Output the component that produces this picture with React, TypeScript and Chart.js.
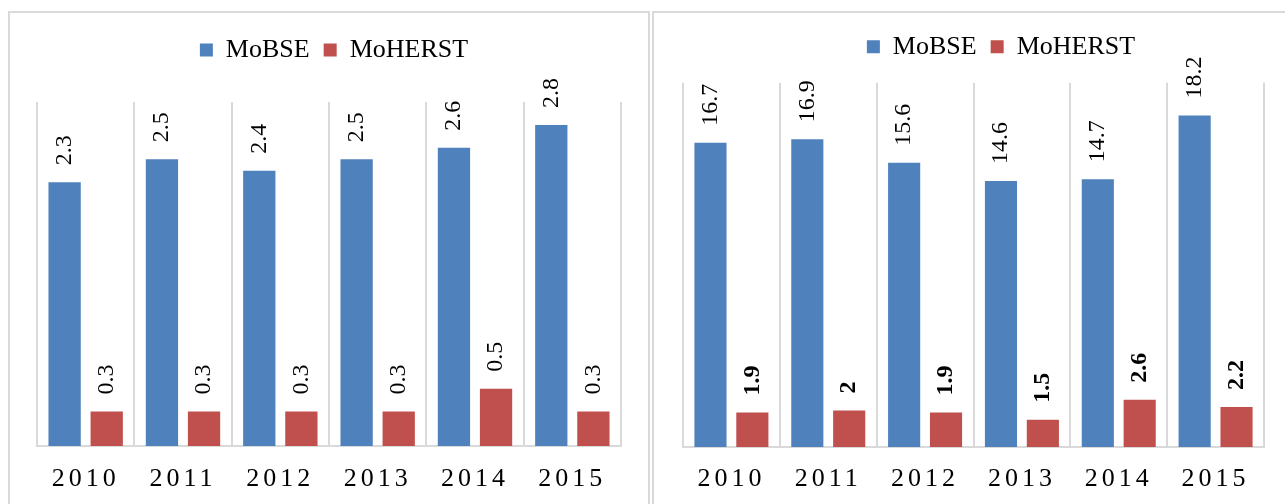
import React, { useEffect, useRef } from 'react';
import { Chart, registerables } from 'chart.js';

Chart.register(...registerables);

// ---- data ----
const years = ['2010', '2011', '2012', '2013', '2014', '2015'];
const seriesNames = ['MoBSE', 'MoHERST'];
const leftMoBSE = [2.3, 2.5, 2.4, 2.5, 2.6, 2.8];
const leftMoHERST = [0.3, 0.3, 0.3, 0.3, 0.5, 0.3];
const rightMoBSE = [16.7, 16.9, 15.6, 14.6, 14.7, 18.2];
const rightMoHERST = [1.9, 2, 1.9, 1.5, 2.6, 2.2];
const leftMax = 3;
const rightMax = 20;

const BLUE = '#4F81BD';
const RED = '#C0504D';
const GRID = '#d9d9d9';
const FONT = "'Liberation Serif', 'Times New Roman', serif";

type PanelCfg = {
  a: number[];
  b: number[];
  max: number;
  boldIdx: number[];
  pad: { top: number; left: number; right: number; bottom: number };
  yW: number;
  legendExtra: number;
  tickPad: number;
  width: number;
  height: number;
};

const leftCfg: PanelCfg = {
  a: leftMoBSE,
  b: leftMoHERST,
  max: leftMax,
  boldIdx: [],
  pad: { top: 10, left: 27, right: 17, bottom: 1 },
  yW: 10,
  legendExtra: 29,
  tickPad: 17.4,
  width: 638,
  height: 500,
};

const rightCfg: PanelCfg = {
  a: rightMoBSE,
  b: rightMoHERST,
  max: rightMax,
  boldIdx: [1],
  pad: { top: 6.7, left: 29, right: 0, bottom: 2 },
  yW: 55,
  legendExtra: 13,
  tickPad: 16.4,
  width: 665,
  height: 500,
};

function makeChart(canvas: HTMLCanvasElement, p: PanelCfg) {
  const plugin: any = {
    id: 'valueLabels',
    beforeLayout(chart: any) {
      const lg = chart.legend;
      if (lg && !lg.__patched) {
        const orig = lg.fit;
        lg.fit = function () {
          orig.call(this);
          this.height += p.legendExtra;
        };
        lg.__patched = true;
      }
    },
    beforeDraw(chart: any) {
      chart.ctx.letterSpacing = '0px';
    },
    afterDatasetsDraw(chart: any) {
      const ctx = chart.ctx;
      ctx.letterSpacing = '0px';
      chart.data.datasets.forEach((ds: any, di: number) => {
        const meta = chart.getDatasetMeta(di);
        meta.data.forEach((el: any, i: number) => {
          const v = ds.data[i];
          ctx.save();
          ctx.translate(el.x, el.y - 17);
          ctx.rotate(-Math.PI / 2);
          ctx.font = `${p.boldIdx.includes(di) ? 'bold ' : ''}24px ${FONT}`;
          ctx.fillStyle = '#000';
          ctx.textAlign = 'left';
          ctx.textBaseline = 'middle';
          ctx.fillText(String(v), 0, 0);
          ctx.restore();
        });
      });
      ctx.letterSpacing = '4px';
    },
    afterDraw(chart: any) {
      chart.ctx.letterSpacing = '0px';
    },
  };

  return new Chart(canvas, {
    type: 'bar',
    data: {
      labels: years,
      datasets: [
        { label: seriesNames[0], data: p.a, backgroundColor: BLUE, borderWidth: 0 },
        { label: seriesNames[1], data: p.b, backgroundColor: RED, borderWidth: 0 },
      ],
    },
    options: {
      responsive: false,
      animation: false,
      maintainAspectRatio: false,
      categoryPercentage: 0.865,
      barPercentage: 0.767,
      layout: { padding: p.pad },
      plugins: {
        tooltip: { enabled: false },
        legend: {
          position: 'top',
          labels: {
            boxWidth: 13,
            boxHeight: 13,
            padding: 14,
            color: '#000',
            font: { family: FONT, size: 26 },
          },
        },
      },
      scales: {
        x: {
          grid: { color: GRID, lineWidth: 2, drawTicks: false, offset: true },
          border: { color: GRID, width: 2 },
          ticks: {
            color: '#000',
            font: { family: FONT, size: 26 },
            padding: p.tickPad,
            maxRotation: 0,
            autoSkip: false,
            z: 1,
          },
        },
        y: {
          position: 'right',
          min: 0,
          max: p.max,
          grid: { display: false, drawTicks: false },
          border: { display: false },
          ticks: { display: false },
          afterFit: (s: any) => {
            s.width = p.yW;
          },
        },
      },
    },
    plugins: [plugin],
  } as any);
}

function Panel({ cfg, left }: { cfg: PanelCfg; left: number }) {
  const ref = useRef<HTMLCanvasElement>(null);
  useEffect(() => {
    if (!ref.current) return;
    const ch = makeChart(ref.current, cfg);
    return () => ch.destroy();
  }, [cfg]);
  return (
    <canvas
      ref={ref}
      width={cfg.width}
      height={cfg.height}
      style={{ position: 'absolute', left, top: 13, display: 'block' }}
    />
  );
}

export default function App() {
  const border = '2px solid #d9d9d9';
  return (
    <div
      style={{
        position: 'absolute',
        left: 0,
        top: 0,
        width: 1285,
        height: 504,
        overflow: 'hidden',
        background: '#fff',
      }}
    >
      <div
        style={{
          position: 'absolute',
          left: 8,
          top: 11,
          width: 642,
          height: 493,
          boxSizing: 'border-box',
          border,
          borderBottom: 'none',
        }}
      />
      <div
        style={{
          position: 'absolute',
          left: 652,
          top: 11,
          width: 650,
          height: 493,
          boxSizing: 'border-box',
          border,
          borderBottom: 'none',
        }}
      />
      <Panel cfg={leftCfg} left={10} />
      <Panel cfg={rightCfg} left={654} />
    </div>
  );
}
